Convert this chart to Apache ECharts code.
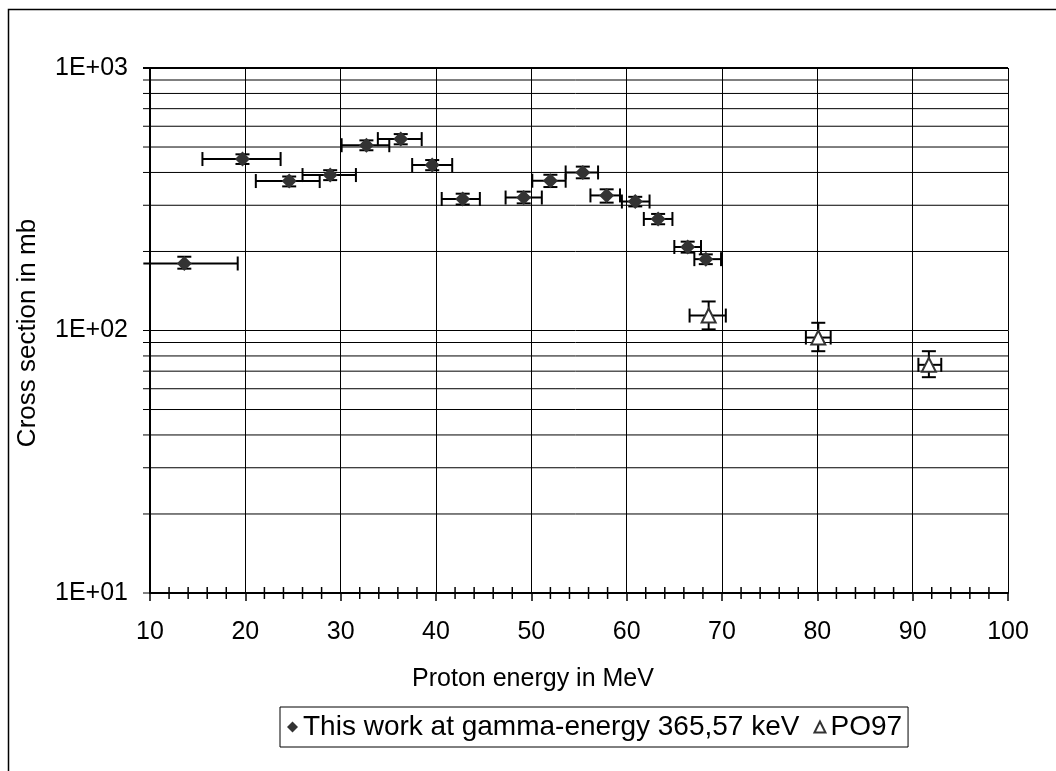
<!DOCTYPE html>
<html>
<head>
<meta charset="utf-8">
<script src="https://cdn.jsdelivr.net/npm/echarts@6/dist/echarts.min.js"></script>
<style>
html,body{margin:0;padding:0;background:#fff;}
#chart{width:1056px;height:771px;}
</style>
</head>
<body>
<div id="chart"></div>
<script>
// ---- data ----
const thisName = 'This work at gamma-energy 365,57 keV';
const thisX     = [13.6, 19.7, 24.6, 28.9, 32.7, 36.3, 39.6, 42.8, 49.2, 52.0, 55.4, 57.9, 60.9, 63.3, 66.4, 68.3];
const thisY     = [180, 450, 371, 391, 508, 536, 427, 317, 321, 372, 400, 327, 310, 266, 208, 187];
const thisXLow  = [9.3, 15.5, 21.1, 26.0, 30.1, 33.9, 37.5, 40.6, 47.3, 50.1, 53.6, 56.2, 59.5, 61.8, 65.0, 67.1];
const thisXHigh = [19.2, 23.7, 27.8, 31.6, 35.1, 38.5, 41.7, 44.6, 51.1, 53.6, 57.0, 59.3, 62.4, 64.8, 67.8, 69.9];
const thisYLow  = [172, 431, 354, 374, 486, 512, 408, 302, 305, 352, 380, 307, 297, 254, 198, 179];
const thisYHigh = [191, 469, 386, 408, 530, 560, 446, 332, 338, 392, 421, 345, 323, 278, 218, 195];

const poName = 'PO97';
const poX     = [68.6, 80.1, 91.7];
const poY     = [114, 94, 74];
const poXLow  = [66.6, 78.8, 90.6];
const poXHigh = [70.4, 81.4, 93.0];
const poYLow  = [101, 83.4, 66.4];
const poYHigh = [129, 107, 83.4];

// ---- axis ticks ----
const xMin = 10, xMax = 100, xInterval = 10;
const yMin = 10, yMax = 1000;
const yMajorLabels = {10: '1E+01', 100: '1E+02', 1000: '1E+03'};
const yGridValues = [10, 20, 30, 40, 50, 60, 70, 80, 90, 100, 200, 300, 400, 500, 600, 700, 800, 900, 1000];
const xMinorTicks = [12, 14, 16, 18, 22, 24, 26, 28, 32, 34, 36, 38, 42, 44, 46, 48, 52, 54, 56, 58,
                     62, 64, 66, 68, 72, 74, 76, 78, 82, 84, 86, 88, 92, 94, 96, 98];

const FONT = 'Liberation Sans, Arial, sans-serif';

function errData(xs, ys, xl, xh, yl, yh) {
  return xs.map((x, i) => [x, ys[i], xl[i], xh[i], yl[i], yh[i]]);
}

function renderErr(params, api) {
  const x = api.value(0), y = api.value(1);
  const xl = api.value(2), xh = api.value(3), yl = api.value(4), yh = api.value(5);
  const l = api.coord([xl, y]), r = api.coord([xh, y]);
  const lo = api.coord([x, yl]), hi = api.coord([x, yh]);
  const st = {stroke: '#000', lineWidth: 2};
  const cap = 7;
  const ch = [
    {type: 'line', shape: {x1: l[0], y1: l[1], x2: r[0], y2: r[1]}, style: st},
    {type: 'line', shape: {x1: r[0], y1: r[1] - cap, x2: r[0], y2: r[1] + cap}, style: st},
    {type: 'line', shape: {x1: lo[0], y1: lo[1], x2: hi[0], y2: hi[1]}, style: st},
    {type: 'line', shape: {x1: lo[0] - cap, y1: lo[1], x2: lo[0] + cap, y2: lo[1]}, style: st},
    {type: 'line', shape: {x1: hi[0] - cap, y1: hi[1], x2: hi[0] + cap, y2: hi[1]}, style: st}
  ];
  if (xl >= xMin) {
    ch.push({type: 'line', shape: {x1: l[0], y1: l[1] - cap, x2: l[0], y2: l[1] + cap}, style: st});
  }
  return {type: 'group', children: ch};
}

const chart = echarts.init(document.getElementById('chart'), null, {renderer: 'canvas'});
chart.setOption({
  animation: false,
  backgroundColor: '#fff',
  textStyle: {fontFamily: FONT},
  grid: {left: 150, top: 68, right: 48, bottom: 178, containLabel: false},
  graphic: [
    {type: 'rect', shape: {x: 8.5, y: 9.5, width: 1100, height: 800},
     style: {fill: 'none', stroke: '#000', lineWidth: 1.5}, z: -1, silent: true},
    {type: 'text', x: 533, y: 679,
     style: {text: 'Proton energy in MeV', fontSize: 25, fontFamily: FONT, fill: '#000',
             textAlign: 'center', textVerticalAlign: 'middle'}},
    {type: 'text', x: 28, y: 333, rotation: Math.PI / 2,
     style: {text: 'Cross section in mb', fontSize: 26, fontFamily: FONT, fill: '#000',
             textAlign: 'center', textVerticalAlign: 'middle'}}
  ],
  xAxis: {
    type: 'value', min: xMin, max: xMax, interval: xInterval,
    axisLine: {show: true, lineStyle: {color: '#000', width: 2}},
    axisTick: {show: true, length: 8, lineStyle: {color: '#000', width: 1.5}},
    axisLabel: {color: '#000', fontSize: 25, fontFamily: FONT, margin: 27},
    splitLine: {show: true, lineStyle: {color: '#000', width: 1}}
  },
  yAxis: {
    type: 'log', logBase: 10, min: yMin, max: yMax,
    axisLine: {show: true, lineStyle: {color: '#000', width: 2}},
    axisTick: {show: false},
    axisLabel: {color: '#000', fontSize: 25, fontFamily: FONT, margin: 22,
                formatter: v => yMajorLabels[Math.round(v)] || ''},
    splitLine: {show: false}
  },
  legend: {
    data: [thisName, poName],
    left: 280, top: 707,
    orient: 'horizontal',
    borderColor: '#000', borderWidth: 1,
    padding: [6, 6, 6, 7],
    itemGap: 14,
    itemWidth: 11, itemHeight: 11,
    textStyle: {fontSize: 28, fontFamily: FONT, color: '#000'}
  },
  series: [
    {
      name: 'yGrid', type: 'custom', silent: true, clip: false, z: 1,
      data: yGridValues.map(v => [xMin, v]),
      encode: {x: 0, y: 1},
      renderItem: (params, api) => {
        const v = api.value(1);
        const p0 = api.coord([xMin, v]), p1 = api.coord([xMax, v]);
        return {type: 'line', shape: {x1: p0[0] - 7, y1: p0[1], x2: p1[0], y2: p1[1]},
                style: {stroke: '#000', lineWidth: (v === 1000 ? 2 : 1)}};
      }
    },
    {
      name: 'xMinor', type: 'custom', silent: true, clip: false, z: 1,
      data: xMinorTicks.map(v => [v, yMin]),
      encode: {x: 0, y: 1},
      renderItem: (params, api) => {
        const p = api.coord([api.value(0), yMin]);
        return {type: 'line', shape: {x1: p[0], y1: p[1] - 6, x2: p[0], y2: p[1] + 6},
                style: {stroke: '#000', lineWidth: 1.5}};
      }
    },
    {
      name: 'errThis', type: 'custom', silent: true, clip: false, z: 3,
      data: errData(thisX, thisY, thisXLow, thisXHigh, thisYLow, thisYHigh),
      encode: {x: 0, y: 1},
      renderItem: renderErr
    },
    {
      name: 'errPO', type: 'custom', silent: true, clip: false, z: 3,
      data: errData(poX, poY, poXLow, poXHigh, poYLow, poYHigh),
      encode: {x: 0, y: 1},
      renderItem: renderErr
    },
    {
      name: thisName, type: 'scatter', z: 5,
      symbol: 'diamond', symbolSize: 15,
      itemStyle: {color: '#333333', opacity: 1},
      data: thisX.map((x, i) => [x, thisY[i]])
    },
    {
      name: poName, type: 'scatter', z: 5,
      symbol: 'triangle', symbolSize: 14,
      itemStyle: {color: '#ffffff', borderColor: '#333333', borderWidth: 2, opacity: 1},
      data: poX.map((x, i) => [x, poY[i]])
    }
  ]
});
</script>
</body>
</html>
